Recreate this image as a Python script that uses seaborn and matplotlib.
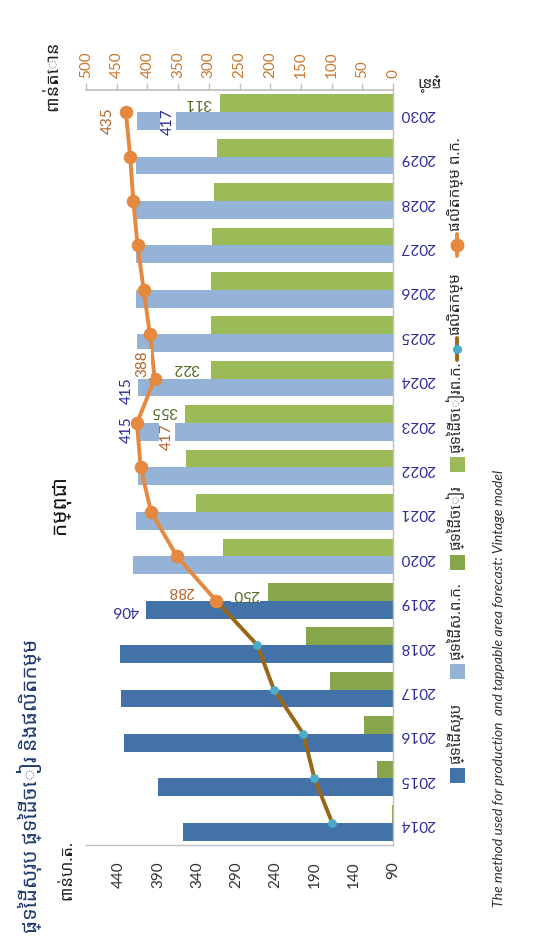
import numpy as np
import pandas as pd
import seaborn as sns
import matplotlib.pyplot as plt
from matplotlib.patches import Rectangle
from matplotlib.lines import Line2D

# Data (thousand ha / thousand tonnes)
years = list(range(2014, 2031))
total_area = [358, 390, 433, 437, 439, 406, 422, 418, 416, 415, 415, 417, 418, 418, 418, 418, 417]
tapped_area = [91, 111, 127, 170, 201, 250, 307, 341, 354, 355, 322, 322, 322, 321, 319, 315, 311]
prod_years_hist = [2014, 2015, 2016, 2017, 2018, 2019]
production_hist = [99, 128, 146, 194, 221, 288]
prod_years_fcst = [2019, 2020, 2021, 2022, 2023, 2024, 2025, 2026, 2027, 2028, 2029, 2030]
production_fcst = [288, 352, 394, 411, 417, 388, 396, 406, 416, 423, 428, 435]
first_forecast = 2020

legend_labels = ['ផ្ទៃដីសរុប', 'ផ្ទៃដីស.ព.ក.', 'ផ្ទៃដីចៀរ', 'ផ្ទៃដីចៀរព.ក.', 'ផលិតកម្ម', 'ផលិតកម្ម ព.ក.']
title = 'ផ្ទៃដីសរុប ផ្ទៃដីចៀរ និងផលិតកម្ម'
subtitle = 'កម្ពុជា'
area_unit = 'ពាន់ហ.ត.'
prod_unit = 'ពាន់តោន'
year_word = 'ឆ្នាំ'
note = 'The method used for production  and tappable area forecast: Vintage model'

# colours
c_total, c_total_f = '#4372a9', '#95b3d7'
c_tap, c_tap_f = '#87a64b', '#9bbb59'
c_prod, c_prod_mk = '#9a6618', '#4bacc6'
c_fcst = '#e4893f'
navy = '#2b2b9b'
lab_green = '#4e6b22'
lab_brown = '#b5652a'

sns.set_theme(style='white')
plt.rcParams['font.family'] = ['Lato', 'Noto Sans Khmer', 'Khmer OS', 'DejaVu Sans']

W, H = 540, 940
def px(x, y):
    return x / W, 1 - y / H

fig = plt.figure(figsize=(5.4, 9.4), dpi=100)
ax = fig.add_axes([86 / W, 1 - 845 / H, (393 - 86) / W, (845 - 90) / H])

df = pd.DataFrame({
    'year': years * 2,
    'kind': ['total'] * len(years) + ['tapped'] * len(years),
    'value': total_area + tapped_area,
})
sns.barplot(data=df, x='value', y='year', hue='kind', hue_order=['total', 'tapped'],
            orient='h', native_scale=True, width=0.8, palette=[c_total, c_tap],
            saturation=1, errorbar=None, legend=False, ax=ax)

# forecast years get the lighter colours
for cont, fc in zip(ax.containers, [c_total_f, c_tap_f]):
    for bar in cont.patches:
        yr = round(bar.get_y() + bar.get_height() / 2)
        if yr >= first_forecast:
            bar.set_facecolor(fc)
        bar.set_edgecolor('none')

ax.set_xlim(482, 90)
ax.set_xticks(range(90, 441, 50))
ax.set_yticks(years)
ax.set_yticklabels([str(y) for y in years])
ax.yaxis.tick_right()
ax.tick_params(axis='x', rotation=90, length=0, pad=12, labelsize=11, labelcolor='#333333')
ax.tick_params(axis='y', rotation=180, length=0, pad=5, labelsize=11, labelcolor=navy)
ax.set_xlabel('')
ax.set_ylabel('')
for s in ['left', 'top']:
    ax.spines[s].set_visible(False)
for s in ['bottom', 'right']:
    ax.spines[s].set_color('#c0c0c0')
    ax.spines[s].set_linewidth(1)

# production lines on the secondary (top) axis
ax2 = ax.twiny()
sns.lineplot(x=production_hist, y=prod_years_hist, orient='y', sort=False, color=c_prod,
             lw=2.8, marker='o', markersize=5.5, markerfacecolor=c_prod_mk,
             markeredgecolor=c_prod_mk, ax=ax2)
sns.lineplot(x=production_fcst, y=prod_years_fcst, orient='y', sort=False, color=c_fcst,
             lw=2.8, marker='o', markersize=9, markerfacecolor=c_fcst,
             markeredgecolor=c_fcst, ax=ax2)
ax2.set_xlim(500, 0)
ax2.set_xticks(range(0, 501, 50))
ax2.tick_params(axis='x', rotation=90, length=5, width=1, color='#c0c0c0', direction='out',
                pad=4, labelsize=11, labelcolor='#c8782f')
ax2.set_xlabel('')
ax2.set_ylabel('')
for s in ['left', 'right', 'bottom']:
    ax2.spines[s].set_visible(False)
ax2.spines['top'].set_color('#c0c0c0')
ax.set_ylim(2013.5, 2030.5)

box = dict(facecolor='white', edgecolor='none', pad=1)

def lab(axis, text, xy, off, rot, color):
    axis.annotate(text, xy=xy, xytext=off, textcoords='offset pixels', rotation=rot,
                  ha='center', va='center', fontsize=11, color=color, bbox=box, zorder=5)

# area labels
lab(ax, '406', (406, 2019 - 0.2), (-20, 0), 180, navy)
lab(ax, '250', (250, 2019 + 0.2), (-22, -2), 180, lab_green)
lab(ax, '355', (355, 2023 + 0.2), (-21, 3), 180, lab_green)
lab(ax, '322', (322, 2024 + 0.2), (-25, 2), 180, lab_green)
lab(ax, '311', (311, 2030 + 0.2), (-22, 0), 180, lab_green)
lab(ax, '415', (415, 2023 - 0.2), (-12, 2), 90, navy)
lab(ax, '415', (415, 2024 - 0.2), (-12, -3), 90, navy)
lab(ax, '417', (417, 2030 - 0.2), (31, -1), 90, navy)
# production labels
lab(ax2, '288', (288, 2019), (-35, 10), 180, lab_brown)
lab(ax2, '417', (417, 2023), (30, -14), 90, lab_brown)
lab(ax2, '388', (388, 2024), (-12, 15), 90, lab_brown)
lab(ax2, '435', (435, 2030), (-18, -8), 90, lab_brown)

# legend, drawn rotated like the rest of the chart
leg_y = [775, 671, 562, 464, 349, 245]
mx = 457
sq = 15
for i, (label, yy) in enumerate(zip(legend_labels, leg_y)):
    if i < 4:
        fc = [c_total, c_total_f, c_tap, c_tap_f][i]
        x0, y0 = px(mx - sq / 2, yy + sq / 2)
        fig.add_artist(Rectangle((x0, y0), sq / W, sq / H, facecolor=fc,
                                 edgecolor='none', transform=fig.transFigure))
        start = yy - sq / 2 - 4
    else:
        lc, mc, ms = (c_prod, c_prod_mk, 5.5) if i == 4 else (c_fcst, c_fcst, 9)
        xa, ya = px(mx, yy + 11)
        xb, yb = px(mx, yy - 11)
        fig.add_artist(Line2D([xa, xb], [ya, yb], color=lc, lw=2.8, transform=fig.transFigure))
        xc, yc = px(mx, yy)
        fig.add_artist(Line2D([xc], [yc], marker='o', markersize=ms, color=mc,
                              transform=fig.transFigure))
        start = yy - 14
    tx, ty = px(455, start)
    fig.text(tx, ty, label, rotation=90, rotation_mode='anchor', ha='left', va='center',
             fontsize=11, color='#303030')

# titles and units
tx, ty = px(29, 933)
fig.text(tx, ty, title, rotation=90, rotation_mode='anchor', ha='left', va='center',
         fontsize=15, fontweight='bold', color='#203a70')
tx, ty = px(60, 505)
fig.text(tx, ty, subtitle, rotation=90, ha='center', va='center', fontsize=15,
         fontweight='bold', color='#111111')
tx, ty = px(66, 870)
fig.text(tx, ty, area_unit, rotation=90, ha='center', va='center', fontsize=12, color='#222222')
tx, ty = px(52, 76)
fig.text(tx, ty, prod_unit, rotation=90, ha='center', va='center', fontsize=13, color='#222222')
tx, ty = px(428, 82)
fig.text(tx, ty, year_word, rotation=180, ha='center', va='center', fontsize=11, color='#222222')
tx, ty = px(499, 907)
fig.text(tx, ty, note, rotation=90, rotation_mode='anchor', ha='left', va='center',
         fontsize=10, fontstyle='italic', color='#303030')

fig.savefig('out.png', dpi=100, facecolor='white')
